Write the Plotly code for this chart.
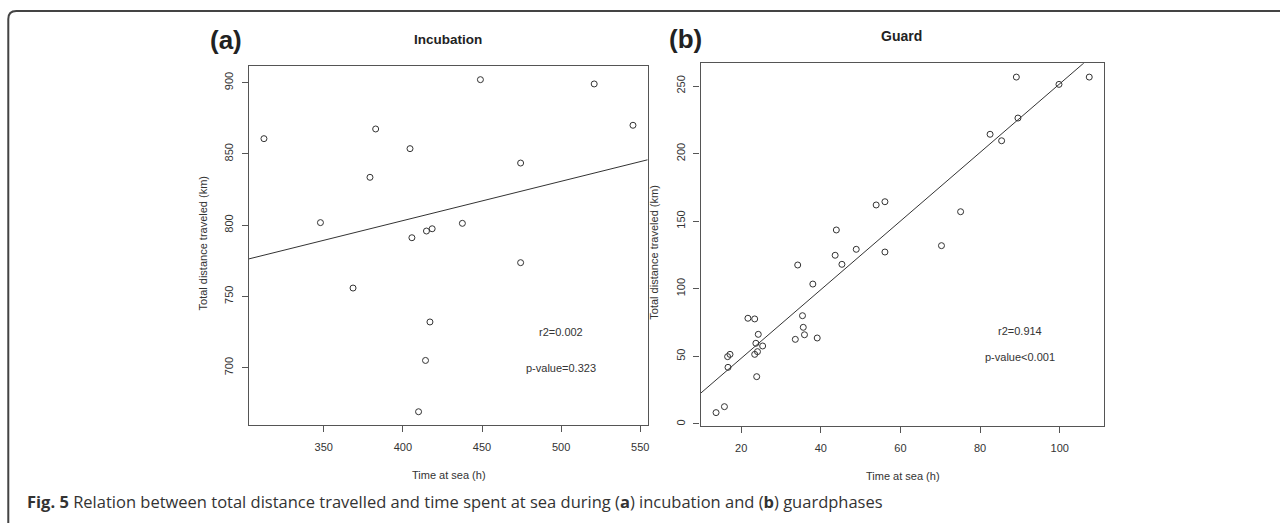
import plotly.graph_objects as go

W, H = 1282, 523

# ---------------- data ----------------
inc_time = [312.2, 347.9, 368.5, 379.2, 382.8, 404.5, 405.7, 409.9, 414.3,
            414.9, 417.1, 418.5, 437.6, 449.0, 474.4, 474.4, 520.9, 545.4]
inc_dist = [860.7, 801.8, 755.9, 833.6, 867.5, 853.7, 791.2, 669.1, 705.1,
            795.9, 732.1, 797.5, 801.3, 902.1, 843.6, 773.7, 899.1, 870.1]

guard_time = [13.7, 15.8, 16.7, 16.6, 17.2, 21.7, 23.4, 24.3, 23.7, 23.4, 24.1, 25.4,
              23.9, 34.2, 38.0, 35.4, 35.6, 35.9, 33.6, 39.1, 43.6, 45.3, 56.1, 43.9,
              53.9, 56.1, 48.9, 89.1, 107.4, 99.8, 89.5, 82.5, 85.4, 75.1, 70.3]
guard_dist = [8.4, 12.8, 41.9, 49.8, 51.5, 78.2, 77.7, 66.3, 59.7, 51.5, 53.5, 57.7,
              35.0, 117.6, 103.5, 80.1, 71.5, 66.0, 62.6, 63.6, 124.8, 118.1, 127.2, 143.5,
              162.0, 164.4, 129.2, 256.6, 256.6, 251.2, 226.3, 214.3, 209.5, 157.0, 131.9]

inc_fit = {"intercept": 692.8, "slope": 0.276}
guard_fit = {"intercept": -2.23, "slope": 2.539}

inc_xticks = [350, 400, 450, 500, 550]
inc_yticks = [700, 750, 800, 850, 900]
guard_xticks = [20, 40, 60, 80, 100]
guard_yticks = [0, 50, 100, 150, 200, 250]

inc_stats = ["r2=0.002", "p-value=0.323"]
guard_stats = ["r2=0.914", "p-value<0.001"]
# --------------------------------------------------------------

inc_xr = [302.7, 554.7]
inc_yr = [659.8, 911.9]
guard_xr = [9.82, 111.1]
guard_yr = [-1.5, 266.8]


def px(x):
    return x / W


def py(y):
    return 1 - y / H


fig = go.Figure()

mk = dict(symbol="circle-open", size=6, color="#333333", line=dict(width=1, color="#333333"))

fig.add_trace(go.Scatter(x=inc_time, y=inc_dist, mode="markers", marker=mk,
                         xaxis="x", yaxis="y", showlegend=False))
fig.add_trace(go.Scatter(x=inc_xr, y=[inc_fit["intercept"] + inc_fit["slope"] * v for v in inc_xr],
                         mode="lines", line=dict(color="#333333", width=1),
                         xaxis="x", yaxis="y", showlegend=False))
fig.add_trace(go.Scatter(x=guard_time, y=guard_dist, mode="markers", marker=mk,
                         xaxis="x2", yaxis="y2", showlegend=False))
fig.add_trace(go.Scatter(x=guard_xr, y=[guard_fit["intercept"] + guard_fit["slope"] * v for v in guard_xr],
                         mode="lines", line=dict(color="#333333", width=1),
                         xaxis="x2", yaxis="y2", showlegend=False))

tickfont = dict(family="Liberation Sans, Arial", size=11, color="#333333")
ax_common = dict(showline=True, mirror=True, linecolor="#555555", linewidth=1.3,
                 ticks="outside", ticklen=6, tickcolor="#555555", tickwidth=1,
                 showgrid=False, zeroline=False, tickfont=tickfont)

fig.update_layout(
    width=W, height=H, autosize=False,
    margin=dict(l=0, r=0, t=0, b=0),
    paper_bgcolor="white", plot_bgcolor="white",
    xaxis=dict(domain=[px(249.3), px(648.7)], range=inc_xr, tickvals=inc_xticks,
               anchor="y", ticklabelstandoff=6, **ax_common),
    yaxis=dict(domain=[py(425), py(65.7)], range=inc_yr, tickvals=inc_yticks,
               anchor="x", tickangle=-90, ticklabelstandoff=4, **ax_common),
    xaxis2=dict(domain=[px(701.7), px(1105.7)], range=guard_xr, tickvals=guard_xticks,
                anchor="y2", ticklabelstandoff=6, **ax_common),
    yaxis2=dict(domain=[py(426), py(63.3)], range=guard_yr, tickvals=guard_yticks,
                anchor="x2", tickangle=-90, ticklabelstandoff=4, **ax_common),
)

lblfont = dict(family="Liberation Sans, Arial", size=11, color="#333333")
ann = []
# panel letters and titles
ann.append(dict(x=px(226.7), y=py(40), text="<b>(a)</b>", font=dict(family="Liberation Sans, Arial", size=26, color="#222222")))
ann.append(dict(x=px(686.7), y=py(39), text="<b>(b)</b>", font=dict(family="Liberation Sans, Arial", size=26, color="#222222")))
ann.append(dict(x=px(448.3), y=py(39), text="<b>Incubation</b>", font=dict(family="Liberation Sans, Arial", size=13.5, color="#222222")))
ann.append(dict(x=px(903.3), y=py(36), text="<b>Guard</b>", font=dict(family="Liberation Sans, Arial", size=14, color="#222222")))
# axis titles
ann.append(dict(x=px(203.3), y=py(242.5), text="Total distance traveled (km)", textangle=-90, font=lblfont))
ann.append(dict(x=px(655), y=py(251.7), text="Total distance traveled (km)", textangle=-90, font=lblfont))
ann.append(dict(x=px(449.3), y=py(475), text="Time at sea (h)", font=lblfont))
ann.append(dict(x=px(904), y=py(476), text="Time at sea (h)", font=lblfont))
for a in ann:
    a.update(xref="paper", yref="paper", showarrow=False, xanchor="center", yanchor="middle")

# stats text in data coordinates
stats = [
    dict(x=500, y=725, text=inc_stats[0], xref="x", yref="y"),
    dict(x=500, y=700, text=inc_stats[1], xref="x", yref="y"),
    dict(x=90, y=69, text=guard_stats[0], xref="x2", yref="y2"),
    dict(x=90, y=49.5, text=guard_stats[1], xref="x2", yref="y2"),
]
for s in stats:
    s.update(showarrow=False, font=lblfont, xanchor="center", yanchor="middle")
ann.extend(stats)

# caption
ann.append(dict(x=px(25), y=py(501), xref="paper", yref="paper", showarrow=False,
                xanchor="left", yanchor="middle",
                text="<b>Fig. 5</b> Relation between total distance travelled and time spent at sea during "
                     "(<b>a</b>) incubation and (<b>b</b>) guardphases",
                font=dict(family="Open Sans", size=16.5, color="#333333")))
fig.update_layout(annotations=ann)

# outer frame with rounded top-left corner
path = (f"M {px(8.3)},{py(523)} L {px(8.3)},{py(19)} "
        f"Q {px(8.3)},{py(11)} {px(16.3)},{py(11)} L {px(1282)},{py(11)}")
fig.add_shape(type="path", path=path, xref="paper", yref="paper",
              line=dict(color="#444444", width=2))

fig.write_html("out.html", config={"displayModeBar": False},
               post_script="document.body.style.margin='0';document.body.style.overflow='hidden';")
